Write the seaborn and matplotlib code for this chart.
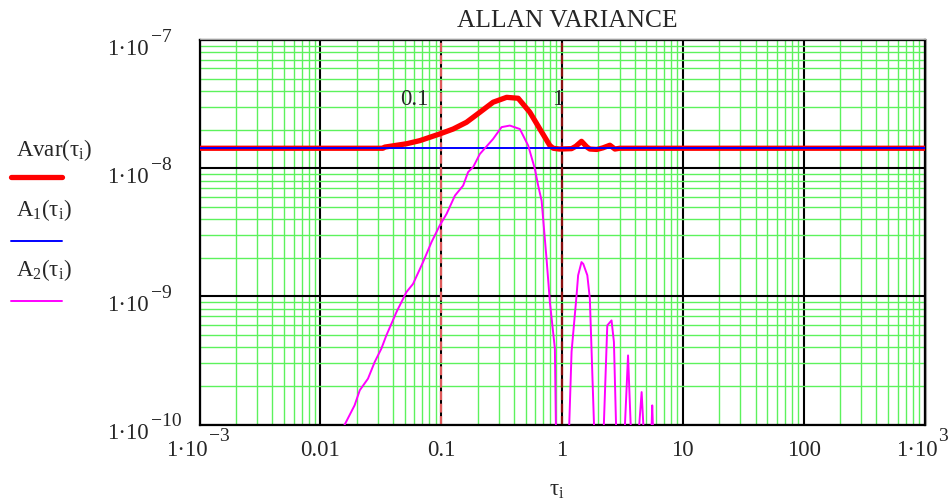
import matplotlib
matplotlib.use("Agg")
import matplotlib.pyplot as plt
from matplotlib.lines import Line2D
from matplotlib.ticker import LogLocator, NullFormatter
from matplotlib.transforms import offset_copy, blended_transform_factory
import numpy as np
import pandas as pd
import seaborn as sns

# ---- data -------------------------------------------------------------
avar_tau = [0.001, 0.033, 0.0341, 0.0516, 0.0666, 0.0974, 0.1256, 0.162, 0.209,
            0.269, 0.348, 0.434, 0.542, 0.656, 0.794, 0.846, 0.95, 1.2, 1.30,
            1.45, 1.61, 1.70, 1.94, 2.18, 2.49, 2.74, 3.0, 1000.0]
avar_val = [1.43e-8, 1.43e-8, 1.46e-8, 1.55e-8, 1.64e-8, 1.85e-8, 2.02e-8, 2.28e-8,
            2.73e-8, 3.27e-8, 3.57e-8, 3.51e-8, 2.73e-8, 2.02e-8, 1.50e-8, 1.43e-8,
            1.41e-8, 1.42e-8, 1.48e-8, 1.62e-8, 1.46e-8, 1.41e-8, 1.40e-8, 1.44e-8,
            1.51e-8, 1.41e-8, 1.43e-8, 1.43e-8]

a1_tau = [0.001, 1000.0]
a1_val = [1.43e-8, 1.43e-8]

a2_tau = [0.012, 0.0161, 0.0192, 0.0212, 0.0248, 0.0282, 0.0320, 0.0352, 0.0427,
          0.0516, 0.0585, 0.0708, 0.0832, 0.0973, 0.111, 0.130, 0.152, 0.167,
          0.184, 0.209, 0.269, 0.316, 0.370, 0.448, 0.525, 0.596, 0.635, 0.678,
          0.745, 0.794, 0.873, 0.89, 1.0,
          1.148, 1.20, 1.32, 1.36, 1.45, 1.50, 1.62, 1.70, 1.84, 2.0,
          2.22, 2.37, 2.57, 2.69, 2.80, 3.0,
          3.32, 3.52, 3.70, 3.85,
          4.36, 4.56, 4.71, 5.0,
          5.52, 5.58, 5.65, 6.0]
a2_val = [6.0e-11, 1.02e-10, 1.41e-10, 1.85e-10, 2.28e-10, 3.08e-10, 3.91e-10, 4.96e-10,
          7.55e-10, 1.08e-9, 1.25e-9, 1.85e-9, 2.65e-9, 3.57e-9, 4.41e-9, 6.11e-9,
          7.31e-9, 9.31e-9, 1.02e-8, 1.29e-8, 1.69e-8, 2.09e-8, 2.15e-8, 2.02e-8,
          1.50e-8, 9.9e-9, 7.31e-9, 5.58e-9, 1.96e-9, 9.0e-10, 3.91e-10, 1.0e-10, 1e-12,
          1.0e-10, 3.70e-10, 1.02e-9, 1.46e-9, 1.85e-9, 1.79e-9, 1.46e-9, 9.6e-10, 1.0e-10, 1e-12,
          1.0e-10, 5.93e-10, 6.49e-10, 4.40e-10, 1.0e-10, 1e-12,
          1.0e-10, 3.46e-10, 1.0e-10, 1e-12,
          1.0e-10, 1.79e-10, 1.0e-10, 1e-12,
          1.0e-10, 1.41e-10, 1.0e-10, 1e-12]

x_decades = [-3, -2, -1, 0, 1, 2, 3]
x_plain_labels = {-2: "0.01", -1: "0.1", 0: "1", 1: "10", 2: "100"}
y_decades = [-7, -8, -9, -10]
marker_taus = [0.1, 1.0]
marker_labels = ["0.1", "1"]

avar_df = pd.DataFrame({"tau": avar_tau, "value": avar_val})
a1_df = pd.DataFrame({"tau": a1_tau, "value": a1_val})
a2_df = pd.DataFrame({"tau": a2_tau, "value": a2_val})

# ---- style ------------------------------------------------------------
sns.set_style("white")
plt.rcParams["font.family"] = ["Liberation Serif", "DejaVu Serif"]
plt.rcParams["mathtext.fontset"] = "custom"
plt.rcParams["mathtext.rm"] = "Liberation Serif"
plt.rcParams["mathtext.it"] = "Liberation Serif:italic"

W, H = 949, 502
fig = plt.figure(figsize=(W / 100, H / 100), dpi=100)
left, right, top, bottom = 199.5, 924.5, 41.0, 425.5
ax = fig.add_axes([left / W, 1 - bottom / H, (right - left) / W, (bottom - top) / H])

ax.set_xscale("log")
ax.set_yscale("log")
ax.set_xlim(1e-3, 1e3)
ax.set_ylim(1e-10, 1e-7)

for axis in (ax.xaxis, ax.yaxis):
    axis.set_major_locator(LogLocator(base=10, numticks=20))
    axis.set_minor_locator(LogLocator(base=10, subs=range(2, 10), numticks=40))
    axis.set_major_formatter(NullFormatter())
    axis.set_minor_formatter(NullFormatter())
ax.tick_params(which="both", length=0)
ax.set_axisbelow(True)
ax.grid(which="minor", color="#5cf25c", lw=1.0)
ax.grid(which="major", color="black", lw=1.5)
for sp in ax.spines.values():
    sp.set_color("black")
    sp.set_linewidth(1.6)
ax.set_xlabel("")
ax.set_ylabel("")

# vertical markers
ax.axvline(marker_taus[0], color="#e05a5a", lw=1.6, dashes=(4, 1.6), zorder=2)
ax.axvline(marker_taus[1], color="#8b1010", lw=1.6, dashes=(4, 1.6), zorder=2)

# ---- series -------------------------------------------------------------
sns.lineplot(data=avar_df, x="tau", y="value", ax=ax, color="#ff0000", lw=3.8,
             legend=False, zorder=3, solid_capstyle="round")
sns.lineplot(data=a1_df, x="tau", y="value", ax=ax, color="#0000ff", lw=1.4,
             legend=False, zorder=4)
sns.lineplot(data=a2_df, x="tau", y="value", ax=ax, color="#ff00ff", lw=1.4,
             legend=False, zorder=5)
ax.set_xlabel("")
ax.set_ylabel("")

# marker labels
for t, lab, dx in zip(marker_taus, marker_labels, [-13, 1]):
    tr = offset_copy(ax.transData, fig=fig, x=dx, y=0, units="dots")
    ax.text(t, 3.17e-8, lab, transform=tr, ha="right", va="baseline", fontsize=16.5)

# ---- tick labels ---------------------------------------------------------
FS, FS_SUP = 16.5, 14
ty = blended_transform_factory(fig.transFigure, ax.transData)
for e in y_decades:
    base = offset_copy(ty, fig=fig, x=0, y=-14, units="dots")
    sup = offset_copy(ty, fig=fig, x=0, y=-1, units="dots")
    fig.text(149 / W, 10.0 ** e, "1·10", transform=base, ha="right", va="baseline", fontsize=FS)
    fig.text(151 / W, 10.0 ** e, "\u2212" + str(-e), transform=sup, ha="left", va="baseline",
             fontsize=FS_SUP)

tx = blended_transform_factory(ax.transData, fig.transFigure)
base_y = 1 - 456 / H
sup_y = 1 - 441.5 / H
for e in x_decades:
    if e in x_plain_labels:
        fig.text(10.0 ** e, base_y, x_plain_labels[e], transform=tx, ha="center",
                 va="baseline", fontsize=FS)
    else:
        dx = 8.5 if e < 0 else 13
        sup_txt = ("\u2212" if e < 0 else "") + str(abs(e))
        fig.text(10.0 ** e, base_y, "1·10",
                 transform=offset_copy(tx, fig=fig, x=dx, y=0, units="dots"),
                 ha="right", va="baseline", fontsize=FS)
        fig.text(10.0 ** e, sup_y, sup_txt,
                 transform=offset_copy(tx, fig=fig, x=dx + 1, y=0, units="dots"),
                 ha="left", va="baseline", fontsize=FS_SUP)

# ---- title and axis label -----------------------------------------------
fig.text(567 / W, 1 - 27 / H, "ALLAN VARIANCE", ha="center", va="baseline", fontsize=18.4)
fig.text(557 / W, 1 - 496 / H, "τ$_{\\mathrm{i}}$", ha="center", va="baseline", fontsize=FS)

# ---- legend in the left margin -----------------------------------------
legend_items = [
    ("Avar(τ$_{\\mathrm{i}}$)", 156, 178, "#ff0000", 3.8),
    ("A$_{1}$(τ$_{\\mathrm{i}}$)", 216, 241.5, "#0000ff", 1.4),
    ("A$_{2}$(τ$_{\\mathrm{i}}$)", 276, 301.5, "#ff00ff", 1.4),
]
for label, ty_px, ly_px, col, lw in legend_items:
    fig.text(16 / W, 1 - ty_px / H, label, ha="left", va="baseline", fontsize=FS)
    fig.add_artist(Line2D([11 / W, 62 / W], [1 - ly_px / H] * 2, color=col, lw=lw,
                          solid_capstyle="round"))

# light frame shadow on the top and right edges
fig.add_artist(Line2D([left / W, (right + 1.5) / W], [1 - (top - 1.5) / H] * 2,
                      color="#a0a0a0", lw=0.8))
fig.add_artist(Line2D([(right + 1.5) / W] * 2, [1 - (top - 1.5) / H, 1 - bottom / H],
                      color="#a0a0a0", lw=0.8))

fig.savefig("out.png", dpi=100)
